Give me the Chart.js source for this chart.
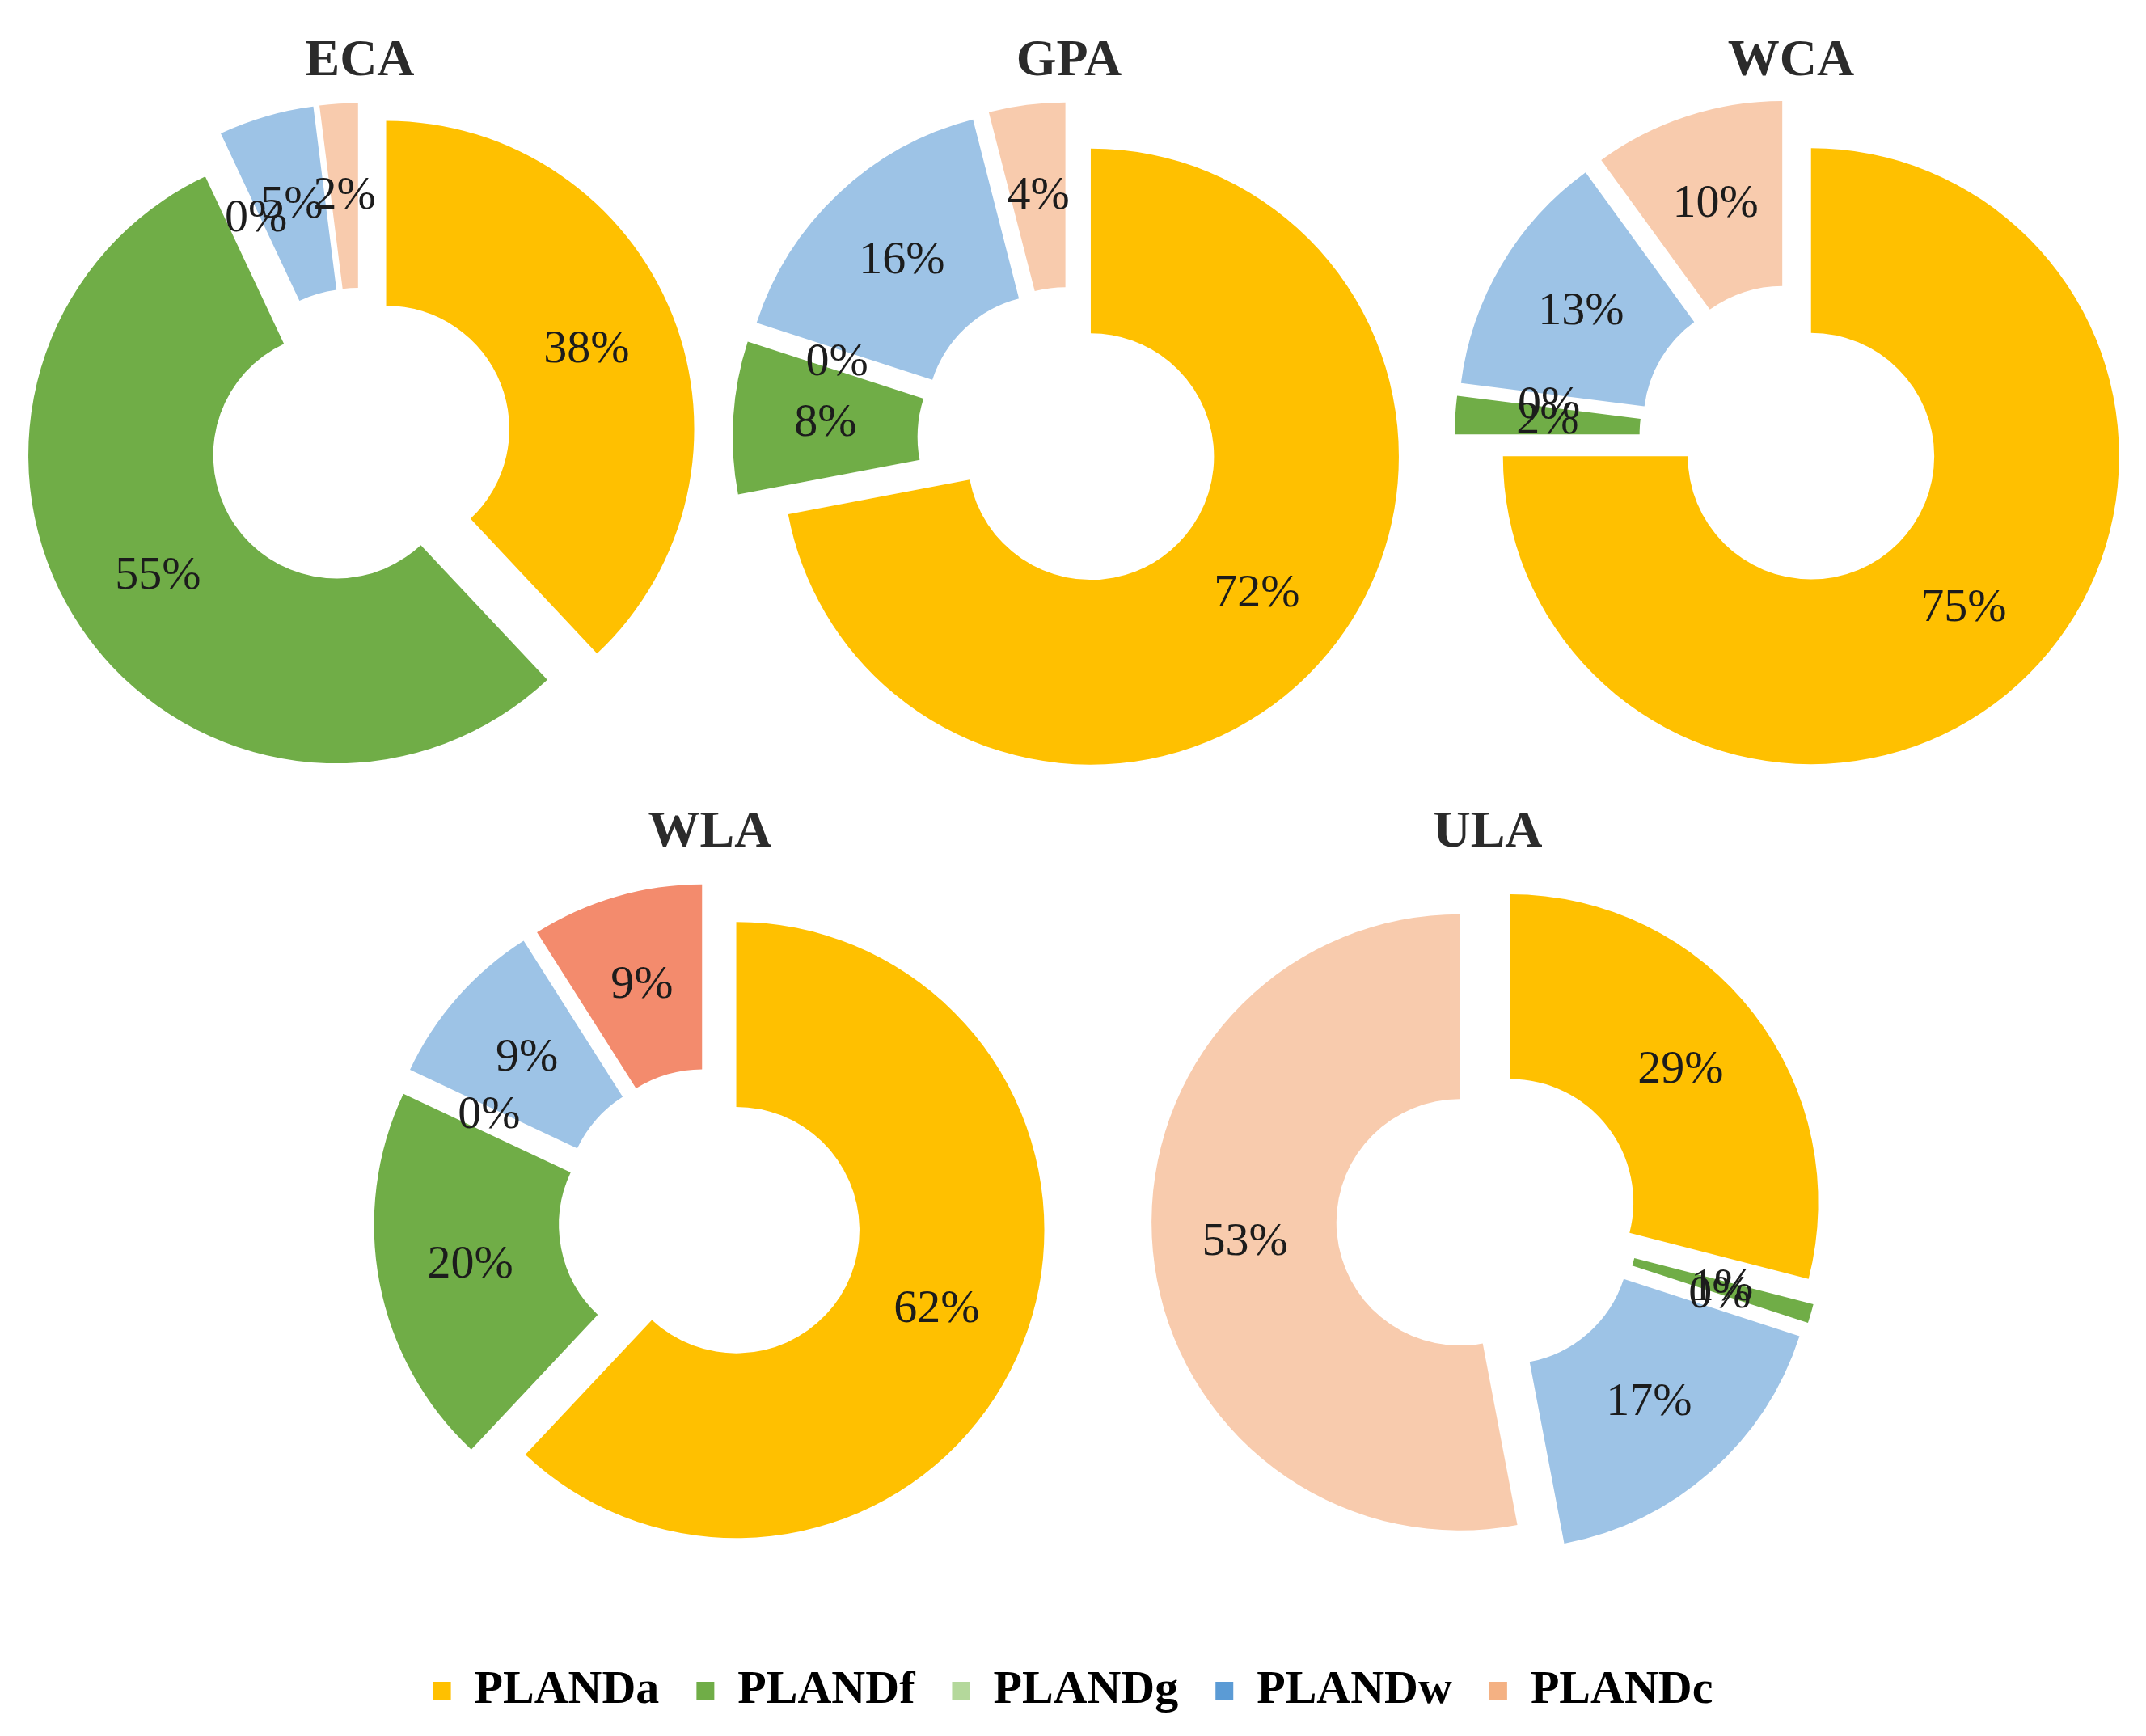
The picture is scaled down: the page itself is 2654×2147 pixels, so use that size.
<!DOCTYPE html>
<html>
<head>
<meta charset="utf-8">
<script src="https://cdn.jsdelivr.net/npm/chart.js@4.4.1/dist/chart.umd.min.js"></script>
<style>
  html, body { margin: 0; padding: 0; background: #ffffff; }
  body { width: 2654px; height: 2147px; position: relative; overflow: hidden; }
  canvas { position: absolute; }
</style>
</head>
<body>
<canvas id="eca"></canvas>
<canvas id="gpa"></canvas>
<canvas id="wca"></canvas>
<canvas id="wla"></canvas>
<canvas id="ula"></canvas>
<canvas id="legend"></canvas>
<script>
// categories (legend order = slice order, clockwise from 12 o'clock)
const categories = ['PLANDa', 'PLANDf', 'PLANDg', 'PLANDw', 'PLANDc'];

// percentage of each class per region
const ecaValues = [38, 55, 0, 5, 2];
const gpaValues = [72, 8, 0, 16, 4];
const wcaValues = [75, 2, 0, 13, 10];
const wlaValues = [62, 20, 0, 9, 9];
const ulaValues = [29, 1, 0, 17, 53];

// colours
const sliceColors = ['#FFC000', '#70AD47', '#A9D18E', '#9DC3E6', '#F8CBAD'];
const wlaColors = ['#FFC000', '#70AD47', '#A9D18E', '#9DC3E6', '#F38B6D'];
const legendColors = ['#FFC000', '#70AD47', '#B4D89B', '#5B9BD5', '#F4B183'];

const serif = '"Liberation Serif", "Times New Roman", serif';
const RADIUS = 381;
const EXPLODE = 35;
const TITLE_SIZE = 64;

// Excel-style explosion: every slice pushed out the same distance along its bisector
const explode = {
  id: 'explode',
  beforeDatasetDraw(chart, args) {
    const ctx = chart.ctx;
    args.meta.data.forEach(function(arc) {
      const p = arc.getProps(['startAngle', 'endAngle'], true);
      const mid = (p.startAngle + p.endAngle) / 2;
      ctx.save();
      ctx.translate(Math.cos(mid) * EXPLODE, Math.sin(mid) * EXPLODE);
      arc.draw(ctx, chart.chartArea);
      ctx.restore();
    });
    return false;
  }
};

// draws the "xx%" labels in the middle of each (exploded) ring segment
const pctLabels = {
  id: 'pctLabels',
  afterDatasetsDraw(chart) {
    const ctx = chart.ctx;
    const meta = chart.getDatasetMeta(0);
    const values = chart.data.datasets[0].data;
    ctx.save();
    ctx.font = '58px ' + serif;
    ctx.fillStyle = '#1c1c1c';
    ctx.textAlign = 'center';
    ctx.textBaseline = 'middle';
    meta.data.forEach(function(arc, i) {
      const p = arc.getProps(['x', 'y', 'startAngle', 'endAngle', 'innerRadius', 'outerRadius'], true);
      const mid = (p.startAngle + p.endAngle) / 2;
      const r = (p.innerRadius + p.outerRadius) / 2 + EXPLODE;
      ctx.fillText(values[i] + '%', p.x + Math.cos(mid) * r, p.y + Math.sin(mid) * r);
    });
    ctx.restore();
  }
};

function makeDonut(id, title, values, colors, cx, cy, ty) {
  const canvas = document.getElementById(id);
  const W = 900;
  const half = TITLE_SIZE * 1.2 / 2;
  const top = ty - half;
  const areaTop = ty + half;
  const areaHalf = cy - areaTop;
  const padB = 30;
  canvas.width = W;
  canvas.height = Math.round(areaTop - top + 2 * areaHalf + padB);
  canvas.style.left = (cx - W / 2) + 'px';
  canvas.style.top = top + 'px';

  return new Chart(canvas, {
    type: 'doughnut',
    data: {
      labels: categories,
      datasets: [{
        data: values,
        backgroundColor: colors,
        borderWidth: 0,
        hoverOffset: 0
      }]
    },
    options: {
      responsive: false,
      animation: false,
      events: [],
      radius: RADIUS,
      cutout: '40%',
      layout: { padding: { top: 0, left: 0, right: 0, bottom: padB } },
      plugins: {
        legend: { display: false },
        tooltip: { enabled: false },
        title: {
          display: true,
          text: title,
          color: '#2b2b2b',
          font: { family: serif, size: TITLE_SIZE, weight: 'bold', lineHeight: 1.2 },
          padding: 0
        }
      }
    },
    plugins: [explode, pctLabels]
  });
}

makeDonut('eca', 'ECA', ecaValues, sliceColors, 445, 543, 76);
makeDonut('gpa', 'GPA', gpaValues, sliceColors, 1322, 542, 76);
makeDonut('wca', 'WCA', wcaValues, sliceColors, 2215, 539, 76);
makeDonut('wla', 'WLA', wlaValues, wlaColors, 878, 1508, 1030);
makeDonut('ula', 'ULA', ulaValues, sliceColors, 1840, 1508, 1030);

// shared legend at the bottom
const legendCanvas = document.getElementById('legend');
legendCanvas.width = 2654;
legendCanvas.height = 420;
legendCanvas.style.left = '0px';
legendCanvas.style.top = '2016px';

new Chart(legendCanvas, {
  type: 'doughnut',
  data: {
    labels: categories,
    datasets: [{
      data: [1, 1, 1, 1, 1],
      backgroundColor: 'rgba(0,0,0,0)',
      borderWidth: 0
    }]
  },
  options: {
    responsive: false,
    animation: false,
    events: [],
    plugins: {
      tooltip: { enabled: false },
      legend: {
        position: 'top',
        labels: {
          color: '#404040',
          font: { family: serif, size: 58, weight: 'bold' },
          boxWidth: 22,
          boxHeight: 22,
          padding: 46,
          generateLabels: function() {
            return categories.map(function(name, i) {
              return { text: name, fillStyle: legendColors[i], strokeStyle: legendColors[i], lineWidth: 0, hidden: false, index: i };
            });
          }
        }
      }
    }
  }
});
</script>
</body>
</html>
